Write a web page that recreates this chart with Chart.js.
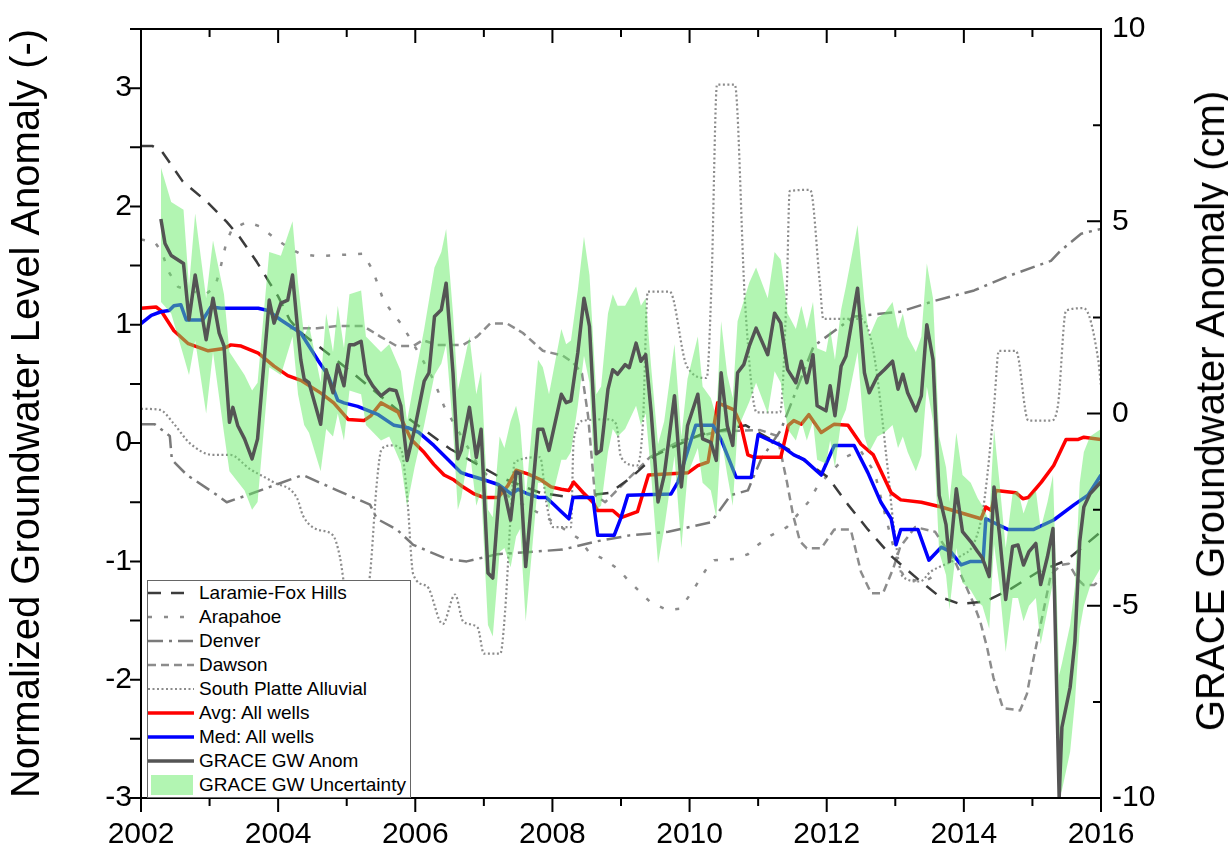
<!DOCTYPE html>
<html><head><meta charset="utf-8">
<script src="https://cdn.jsdelivr.net/npm/chart.js@4"></script>
<style>
html,body{margin:0;padding:0;background:#fff;}
#wrap{position:relative;width:1228px;height:856px;overflow:hidden;}
canvas{display:block;}
#rtitle{position:absolute;left:1210px;top:411px;transform:translate(-50%,-50%) rotate(-90deg);font:40px "Liberation Sans",Arial,sans-serif;white-space:nowrap;color:#000;line-height:1;}
#legend{position:absolute;left:147px;top:580px;width:264px;height:218px;border:1px solid #666;background:#fff;box-sizing:border-box;font:19px "Liberation Sans",Arial,sans-serif;color:#000;}
.row{height:24px;display:flex;align-items:center;white-space:nowrap;}
.row svg{width:48px;height:24px;flex:none;}
.row span{margin-left:3px;}
</style></head>
<body>
<div id="wrap">
<canvas id="c" width="1228" height="856"></canvas>
<div id="rtitle">GRACE Groundwater Anomaly (cm)</div>
<div id="legend"></div>
</div>
<script>
// ---------- tick labels ----------
const xTicks = [2002, 2004, 2006, 2008, 2010, 2012, 2014, 2016];
const leftTicks = [-3, -2, -1, 0, 1, 2, 3];
const rightTicks = [-10, -5, 0, 5, 10];

// ---------- Laramie-Fox Hills ----------
const larX = [2002.00,2002.17,2002.31,2002.42,2002.61,2002.96,2003.25,2003.44,2003.69,2003.88,2004.00,2004.17,2004.32,2005.05,2005.78,2006.51,2007.24,2007.82,2008.26,2008.84,2009.15,2009.51,2010.15,2010.82,2011.46,2012.02,2012.31,2012.60,2012.95,2013.33,2013.65,2013.94,2014.31,2014.69,2015.08,2015.50,2016.00];
const larY = [2.51,2.51,2.46,2.37,2.21,2.04,1.87,1.74,1.53,1.35,1.24,1.04,0.94,0.61,0.26,-0.05,-0.29,-0.42,-0.46,-0.42,-0.29,-0.10,0.07,0.15,-0.06,-0.29,-0.52,-0.73,-0.96,-1.15,-1.30,-1.36,-1.34,-1.23,-1.09,-0.99,-0.75];

// ---------- Arapahoe ----------
const araX = [2002.00,2002.20,2002.31,2002.39,2002.54,2002.73,2002.93,2003.08,2003.15,2003.25,2003.33,2003.55,2003.74,2003.93,2004.13,2004.32,2004.57,2005.24,2005.38,2005.54,2005.79,2005.94,2006.11,2006.27,2006.42,2006.62,2006.94,2007.38,2007.89,2008.39,2008.53,2008.75,2008.97,2009.09,2009.42,2009.67,2009.86,2010.01,2010.25,2010.36,2010.65,2010.85,2011.00,2011.19,2011.42,2011.73,2011.87,2012.27,2012.49,2012.70,2012.88,2013.03,2013.14,2013.43,2013.65];
const araY = [1.72,1.70,1.61,1.46,1.32,1.29,1.25,1.32,1.46,1.71,1.81,1.87,1.83,1.74,1.66,1.60,1.58,1.60,1.46,1.20,1.01,0.87,0.70,0.53,0.31,0.11,-0.21,-0.46,-0.62,-0.81,-0.92,-0.98,-1.07,-1.15,-1.34,-1.41,-1.40,-1.28,-1.06,-0.99,-0.98,-0.94,-0.86,-0.78,-0.71,-0.50,-0.36,-0.12,-0.06,-0.25,-0.67,-1.00,-1.15,-1.17,-1.09];

// ---------- Denver ----------
const denX = [2002.00,2002.20,2002.42,2002.45,2002.67,2003.11,2003.25,2003.55,2003.88,2004.36,2004.86,2005.34,2005.44,2005.73,2005.97,2006.46,2006.75,2007.19,2007.67,2008.15,2008.65,2009.13,2009.69,2010.31,2010.60,2010.85,2011.04,2011.33,2011.81,2012.40,2013.07,2013.56,2014.15,2014.64,2015.27,2015.40,2015.71,2016.00];
const denY = [0.16,0.16,0.06,-0.14,-0.27,-0.44,-0.50,-0.44,-0.37,-0.27,-0.40,-0.52,-0.64,-0.73,-0.86,-0.98,-1.00,-0.94,-0.92,-0.90,-0.83,-0.78,-0.75,-0.67,-0.44,-0.40,-0.14,0.11,0.82,1.07,1.11,1.20,1.29,1.41,1.54,1.62,1.77,1.81];

// ---------- Dawson ----------
const dawX = [2004.17,2004.57,2004.86,2005.24,2005.49,2005.73,2005.97,2006.11,2006.32,2006.70,2006.90,2007.09,2007.34,2007.57,2007.86,2008.15,2008.30,2008.43,2008.52,2008.62,2008.77,2009.06,2009.42,2009.86,2010.44,2011.03,2011.28,2011.42,2011.51,2011.61,2011.71,2011.92,2012.11,2012.35,2012.50,2012.65,2012.82,2012.97,2013.07,2013.29,2013.58,2013.87,2014.13,2014.24,2014.34,2014.43,2014.57,2014.82,2014.92,2015.01,2015.11,2015.21,2015.27,2015.42,2015.53,2015.66,2015.75,2015.90,2016.00];
const dawY = [0.97,0.97,0.99,0.99,0.90,0.82,0.82,0.87,0.83,0.83,0.90,1.01,1.01,0.93,0.78,0.74,0.68,0.59,0.23,-0.44,-0.50,-0.33,-0.12,0.02,0.10,0.11,0.06,-0.33,-0.61,-0.83,-0.89,-0.89,-0.73,-0.73,-1.09,-1.27,-1.27,-1.06,-0.88,-0.71,-0.75,-1.00,-1.34,-1.51,-1.73,-1.98,-2.24,-2.26,-2.12,-1.84,-1.56,-1.28,-1.11,-1.03,-1.02,-1.15,-1.20,-1.20,-1.15];

// ---------- South Platte Alluvial ----------
const spX = [2002.00,2002.28,2002.47,2002.71,2003.05,2003.30,2003.59,2003.93,2004.28,2004.36,2004.57,2004.80,2004.90,2004.98,2005.12,2005.27,2005.34,2005.44,2005.51,2005.66,2005.79,2005.88,2005.97,2006.17,2006.40,2006.58,2006.70,2006.91,2007.00,2007.24,2007.31,2007.40,2007.45,2007.82,2007.91,2008.01,2008.27,2008.31,2008.46,2008.81,2008.93,2009.00,2009.23,2009.32,2009.39,2009.71,2009.96,2010.25,2010.32,2010.40,2010.66,2010.81,2010.98,2011.32,2011.42,2011.46,2011.76,2011.90,2011.95,2012.49,2012.68,2012.89,2012.97,2013.11,2013.36,2013.51,2013.94,2014.16,2014.29,2014.44,2014.51,2014.76,2014.94,2015.27,2015.37,2015.49,2015.75,2015.96,2016.00];
const spY = [0.29,0.28,0.17,0.00,-0.10,-0.10,-0.22,-0.33,-0.47,-0.61,-0.73,-0.78,-0.96,-1.25,-1.42,-1.34,-1.11,-0.33,-0.05,-0.02,-0.05,-0.44,-1.11,-1.21,-1.53,-1.28,-1.51,-1.56,-1.78,-1.78,-1.42,-0.52,-0.16,-0.12,-0.50,-0.71,-0.71,0.03,0.19,0.20,0.16,-0.12,-0.19,0.17,1.28,1.28,0.65,0.55,1.35,3.03,3.03,1.18,0.26,0.26,1.35,2.13,2.14,1.35,1.05,1.05,0.78,-0.22,-0.67,-1.13,-1.17,-1.09,-0.96,-0.83,-0.52,0.31,0.78,0.78,0.19,0.19,0.31,1.12,1.14,0.70,0.48];

// ---------- Avg: All wells ----------
const avgX = [2002.00,2002.22,2002.29,2002.48,2002.69,2002.98,2003.21,2003.31,2003.46,2003.71,2003.94,2004.14,2004.33,2004.63,2004.81,2005.02,2005.25,2005.35,2005.50,2005.75,2005.94,2006.13,2006.27,2006.42,2006.56,2006.67,2006.86,2007.00,2007.21,2007.35,2007.47,2007.64,2007.83,2007.98,2008.13,2008.24,2008.31,2008.45,2008.59,2008.66,2008.88,2009.00,2009.24,2009.40,2009.98,2010.12,2010.27,2010.41,2010.65,2010.75,2010.85,2010.94,2011.33,2011.44,2011.52,2011.63,2011.74,2011.92,2012.11,2012.31,2012.50,2012.68,2012.94,2013.08,2013.38,2013.67,2014.25,2014.32,2014.40,2014.47,2014.76,2014.86,2014.94,2015.13,2015.31,2015.49,2015.66,2015.75,2016.00];
const avgY = [1.14,1.15,1.12,0.95,0.84,0.78,0.80,0.83,0.82,0.76,0.65,0.57,0.53,0.42,0.34,0.20,0.19,0.23,0.34,0.26,0.03,-0.08,-0.18,-0.27,-0.31,-0.36,-0.43,-0.46,-0.46,-0.36,-0.23,-0.26,-0.31,-0.37,-0.39,-0.40,-0.33,-0.42,-0.50,-0.57,-0.57,-0.63,-0.58,-0.27,-0.25,-0.19,-0.16,0.34,0.28,0.15,-0.10,-0.12,-0.12,0.15,0.19,0.16,0.24,0.09,0.16,0.15,-0.01,-0.10,-0.42,-0.48,-0.50,-0.54,-0.64,-0.54,-0.57,-0.40,-0.42,-0.47,-0.46,-0.33,-0.19,0.03,0.03,0.05,0.03];

// ---------- Med: All wells ----------
const medX = [2002.00,2002.15,2002.29,2002.41,2002.48,2002.58,2002.66,2002.90,2003.02,2003.17,2003.71,2003.85,2004.04,2004.33,2004.58,2004.73,2004.87,2004.96,2005.16,2005.46,2005.69,2005.89,2006.05,2006.27,2006.48,2006.67,2006.77,2007.00,2007.21,2007.40,2007.50,2007.64,2007.80,2007.91,2008.02,2008.13,2008.24,2008.30,2008.59,2008.66,2008.90,2009.00,2009.10,2009.73,2009.83,2010.09,2010.34,2010.46,2010.68,2010.90,2011.00,2011.33,2011.52,2011.67,2011.92,2012.11,2012.40,2012.60,2012.79,2012.94,2013.01,2013.08,2013.33,2013.49,2013.67,2013.81,2013.96,2014.10,2014.28,2014.32,2014.64,2015.02,2015.31,2015.61,2015.81,2016.00];
const medY = [1.01,1.08,1.11,1.12,1.16,1.17,1.04,1.04,1.15,1.14,1.14,1.12,1.04,0.93,0.70,0.57,0.36,0.34,0.31,0.24,0.15,0.13,0.09,-0.02,-0.14,-0.25,-0.27,-0.31,-0.35,-0.43,-0.39,-0.43,-0.46,-0.46,-0.52,-0.58,-0.64,-0.46,-0.46,-0.78,-0.78,-0.63,-0.44,-0.43,-0.33,0.15,0.15,0.03,-0.29,-0.29,0.07,-0.02,-0.10,-0.14,-0.27,-0.02,-0.02,-0.25,-0.50,-0.64,-0.86,-0.73,-0.73,-0.99,-0.88,-0.92,-1.03,-1.00,-1.00,-0.64,-0.73,-0.73,-0.65,-0.52,-0.44,-0.27];

// ---------- GRACE GW Anom (cm) ----------
const graceX = [2002.29,2002.35,2002.44,2002.62,2002.70,2002.79,2002.95,2003.05,2003.14,2003.21,2003.29,2003.34,2003.41,2003.51,2003.62,2003.70,2003.87,2003.94,2004.04,2004.14,2004.21,2004.29,2004.33,2004.38,2004.45,2004.62,2004.70,2004.80,2004.87,2004.96,2005.04,2005.11,2005.21,2005.28,2005.38,2005.50,2005.62,2005.72,2005.79,2005.88,2005.99,2006.13,2006.20,2006.28,2006.38,2006.45,2006.55,2006.62,2006.67,2006.79,2006.89,2006.96,2007.06,2007.13,2007.23,2007.30,2007.39,2007.47,2007.53,2007.61,2007.79,2007.86,2007.95,2008.13,2008.20,2008.27,2008.37,2008.46,2008.54,2008.64,2008.71,2008.81,2008.88,2008.95,2009.06,2009.12,2009.22,2009.29,2009.36,2009.44,2009.54,2009.63,2009.78,2009.88,2009.97,2010.12,2010.19,2010.31,2010.39,2010.46,2010.55,2010.63,2010.70,2010.79,2010.87,2010.97,2011.14,2011.24,2011.33,2011.43,2011.55,2011.63,2011.71,2011.80,2011.86,2011.99,2012.05,2012.12,2012.21,2012.28,2012.45,2012.55,2012.62,2012.74,2012.84,2012.96,2013.04,2013.11,2013.18,2013.30,2013.38,2013.46,2013.55,2013.64,2013.74,2013.79,2013.89,2013.98,2014.10,2014.20,2014.27,2014.37,2014.44,2014.52,2014.61,2014.71,2014.79,2014.87,2014.95,2015.05,2015.12,2015.22,2015.30,2015.39,2015.43,2015.55,2015.62,2015.69,2015.75,2015.84,2016.00];
const graceY = [5.06,4.42,4.11,3.90,2.44,3.60,1.92,3.00,2.09,1.76,-0.23,0.16,-0.31,-0.66,-1.18,-0.66,2.95,2.35,2.87,2.95,3.60,2.09,1.40,0.89,0.80,-0.28,1.14,0.54,1.27,0.72,1.79,1.79,1.88,1.02,0.72,0.46,0.63,0.59,0.20,-1.22,-0.41,0.84,1.06,2.52,2.70,3.39,1.06,-1.18,-0.96,0.16,-1.14,-0.41,-4.15,-4.28,-1.91,-2.04,-2.77,-1.52,-1.57,-3.98,-0.41,-0.41,-0.96,0.50,0.28,0.33,1.58,3.00,2.27,-1.05,-0.96,0.63,1.14,1.02,1.27,1.19,1.83,1.36,1.53,0.03,-2.30,-1.61,0.46,-1.91,-0.32,0.50,-0.66,-0.75,-1.22,1.06,-0.32,-0.83,1.06,1.27,1.75,2.22,1.53,2.61,2.35,1.14,0.80,1.36,0.80,1.53,0.20,0.07,0.72,-0.06,1.23,1.49,3.26,1.06,0.54,0.97,1.14,1.36,0.63,1.02,0.54,0.07,0.46,2.31,1.40,-2.13,-2.89,-3.85,-1.96,-3.07,-3.33,-3.59,-3.76,-4.24,-1.91,-3.16,-4.84,-3.46,-3.42,-3.94,-3.59,-3.38,-4.45,-3.72,-2.99,-10.0,-8.16,-7.12,-5.92,-3.33,-2.43,-2.09,-1.78];

// ---------- GRACE GW Uncertainty band (cm) ----------
const bandX = [2002.29,2002.44,2002.62,2002.70,2002.79,2002.95,2003.05,2003.21,2003.29,2003.51,
2003.62,2003.70,2003.87,2004.04,2004.21,2004.29,2004.38,2004.45,2004.62,2004.70,
2004.80,2004.87,2004.96,2005.04,2005.21,2005.28,2005.50,2005.62,2005.79,2005.88,
2005.99,2006.13,2006.28,2006.38,2006.45,2006.55,2006.62,2006.67,2006.79,2006.89,
2006.96,2007.06,2007.13,2007.23,2007.30,2007.39,2007.47,2007.53,2007.61,2007.79,
2007.86,2007.95,2008.13,2008.20,2008.27,2008.37,2008.46,2008.54,2008.64,2008.71,
2008.81,2008.88,2008.95,2009.06,2009.22,2009.29,2009.36,2009.44,2009.54,2009.63,
2009.78,2009.88,2009.97,2010.12,2010.19,2010.31,2010.39,2010.46,2010.55,2010.63,
2010.70,2010.87,2010.97,2011.14,2011.24,2011.33,2011.43,2011.55,2011.63,2011.71,
2011.80,2011.86,2011.99,2012.05,2012.12,2012.21,2012.28,2012.45,2012.55,2012.62,
2012.74,2012.84,2012.96,2013.04,2013.11,2013.18,2013.30,2013.38,2013.46,2013.55,
2013.64,2013.74,2013.79,2013.89,2013.98,2014.10,2014.20,2014.27,2014.37,2014.44,
2014.52,2014.61,2014.71,2014.79,2014.87,2014.95,2015.05,2015.12,2015.22,2015.30,
2015.39,2015.43,2015.55,2015.62,2015.69,2015.75,2015.84,2016.00];
const bandHi = [6.4,5.5,5.3,3.3,5.2,3.0,4.5,3.1,1.6,1.0,
0.6,0.8,4.2,4.1,5.0,3.4,2.0,2.3,0.8,2.6,
1.6,2.8,1.7,3.1,3.2,2.0,1.6,1.8,1.1,-0.2,
0.9,2.2,3.8,4.2,4.8,2.6,0.6,1.0,2.0,0.5,
1.1,-2.5,-2.7,-0.6,-0.9,-0.2,0.2,-0.3,-2.2,1.4,
1.2,0.5,2.2,1.8,1.9,3.2,4.6,3.6,0.5,0.7,
2.6,3.1,2.8,2.8,3.3,2.8,3.0,1.2,-0.8,-0.2,
1.8,-0.6,0.9,2.0,0.7,0.4,-0.1,2.4,1.0,0.4,
2.4,3.4,3.8,3.0,4.2,4.0,2.6,2.2,2.8,2.2,
2.9,1.7,1.6,2.2,1.4,2.7,3.3,4.9,2.9,2.0,
2.5,2.6,2.9,2.2,2.6,2.0,1.6,2.0,3.9,3.0,
-0.6,-1.4,-2.3,-0.5,-1.6,-1.8,-2.2,-2.4,-2.8,-0.4,
-1.8,-3.5,-2.1,-2.0,-2.6,-2.2,-2.0,-3.0,-2.3,-1.6,
-6.8,-6.5,-5.5,-4.5,-1.8,-1.0,-0.6,-0.4];
const bandLo = [2.9,2.6,1.5,1.0,1.9,0.0,1.6,-0.5,-1.5,-2.0,
-2.5,-2.3,1.2,1.0,2.0,0.5,-0.3,-0.5,-1.5,-0.4,
-0.6,0.0,-0.7,0.6,0.5,-0.3,-0.7,-0.6,-1.3,-2.4,
-1.4,-0.3,1.0,1.3,1.8,-0.4,-2.5,-2.2,-0.9,-2.4,
-2.0,-5.5,-5.8,-3.6,-3.5,-4.0,-3.2,-3.0,-5.4,-1.8,
-1.8,-2.5,-1.2,-1.2,-1.0,0.2,1.5,0.8,-2.5,-2.4,
-1.0,-0.4,-0.6,-0.4,0.2,-0.3,0.0,-1.6,-3.9,-3.0,
-1.1,-3.5,-1.6,-0.9,-1.8,-2.0,-2.7,-0.6,-1.6,-2.4,
-0.4,0.3,0.8,0.0,1.1,0.8,-0.4,-0.7,-0.2,-0.7,
-0.2,-1.2,-1.3,-0.7,-1.4,-0.2,0.1,1.6,-0.6,-1.0,
-0.6,-0.5,-0.3,-0.9,-0.6,-1.0,-1.5,-1.1,0.7,-0.2,
-3.6,-4.2,-5.1,-3.5,-4.4,-4.6,-4.9,-5.0,-5.6,-3.4,
-4.5,-6.2,-4.8,-4.8,-5.4,-5.0,-4.8,-6.0,-5.1,-4.4,
-10.0,-9.8,-8.8,-7.5,-5.6,-5.0,-4.5,-4.0];

// ---------- chart ----------
const F = "'Liberation Sans', Arial, Helvetica, sans-serif";
const pts = (xs, ys) => xs.map((x, i) => ({x: x, y: ys[i]}));

const STY = {
  lar: {color: '#3c3c3c', width: 2.5, dash: [13, 10]},
  ara: {color: '#8c8c8c', width: 2.5, dash: [4, 12]},
  den: {color: '#7a7a7a', width: 2.5, dash: [15, 6, 3, 6]},
  daw: {color: '#8c8c8c', width: 2.5, dash: [8, 5]},
  sp:  {color: '#8c8c8c', width: 2.2, dash: [2, 2.5]},
  avg: {color: '#ff0000', width: 3.5},
  med: {color: '#0000ff', width: 3.5},
  gr:  {color: '#545454', width: 3.5},
  band: 'rgba(101,235,101,0.5)'
};

function lineDs(label, xs, ys, s, order, axis, extra) {
  return Object.assign({
    label: label, data: pts(xs, ys), yAxisID: axis || 'y', order: order,
    borderColor: s.color, borderWidth: s.width, borderDash: s.dash || [],
    pointRadius: 0, fill: false, tension: 0, borderJoinStyle: 'round'
  }, extra || {});
}

const datasets = [
  lineDs('GRACE GW Anom', graceX, graceY, STY.gr, 0, 'y2'),
  {label: 'GRACE GW Uncertainty', data: pts(bandX, bandHi), yAxisID: 'y2', order: 1,
   borderWidth: 0, borderColor: 'rgba(0,0,0,0)', backgroundColor: STY.band, pointRadius: 0, fill: '+1', tension: 0},
  {label: 'band low', data: pts(bandX, bandLo), yAxisID: 'y2', order: 2,
   borderWidth: 0, borderColor: 'rgba(0,0,0,0)', pointRadius: 0, fill: false, tension: 0},
  lineDs('Med: All wells', medX, medY, STY.med, 3),
  lineDs('Avg: All wells', avgX, avgY, STY.avg, 4),
  lineDs('Laramie-Fox Hills', larX, larY, STY.lar, 5),
  lineDs('Arapahoe', araX, araY, STY.ara, 6),
  lineDs('Denver', denX, denY, STY.den, 7),
  lineDs('Dawson', dawX, dawY, STY.daw, 8),
  lineDs('South Platte Alluvial', spX, spY, STY.sp, 9, 'y', {cubicInterpolationMode: 'monotone'})
];

const frame = {
  id: 'frame',
  afterDraw(chart) {
    const {ctx, chartArea: {left, right, top, bottom}, scales: {x, y, y2}} = chart;
    ctx.save();
    ctx.strokeStyle = '#000';
    ctx.lineWidth = 2;
    ctx.strokeRect(left, top, right - left, bottom - top);
    ctx.beginPath();
    for (let yr = 2002; yr <= 2016; yr++) {
      const px = x.getPixelForValue(yr);
      const L = (yr % 2 === 0) ? 14 : 8;
      ctx.moveTo(px, bottom); ctx.lineTo(px, bottom + L);
      ctx.moveTo(px, top); ctx.lineTo(px, top + L);
    }
    for (let v = -3; v <= 3.5; v += 0.5) {
      const py = y.getPixelForValue(v);
      ctx.moveTo(left, py); ctx.lineTo(left - 11, py);
    }
    for (let v = -10; v <= 10; v += 2.5) {
      const py = y2.getPixelForValue(v);
      const L = (v % 5 === 0) ? 14 : 8;
      ctx.moveTo(right, py); ctx.lineTo(right - L, py);
    }
    ctx.stroke();
    ctx.restore();
  }
};

const tickFont = {family: F, size: 30};
new Chart(document.getElementById('c'), {
  type: 'line',
  data: {datasets: datasets},
  options: {
    responsive: false, animation: false, devicePixelRatio: 1,
    layout: {padding: {top: 24, left: 0, right: 0, bottom: 0}},
    plugins: {legend: {display: false}, tooltip: {enabled: false}},
    scales: {
      x: {
        type: 'linear', min: 2002, max: 2016, position: 'bottom',
        grid: {display: false, drawTicks: false}, border: {display: false},
        afterBuildTicks: s => { s.ticks = xTicks.map(v => ({value: v})); },
        afterFit: s => { s.height = 58; },
        ticks: {font: tickFont, color: '#000', padding: 19, maxRotation: 0, autoSkip: false, callback: v => String(v)}
      },
      y: {
        type: 'linear', position: 'left', min: -3, max: 3.5,
        grid: {display: false, drawTicks: false}, border: {display: false},
        afterBuildTicks: s => { s.ticks = leftTicks.map(v => ({value: v})); },
        afterFit: s => { s.width = 141; },
        ticks: {font: tickFont, color: '#000', padding: 9, autoSkip: false, callback: v => String(v)},
        title: {display: true, text: 'Normalized Groundwater Level Anomaly (-)', color: '#000',
                font: {family: F, size: 40, lineHeight: 1.2}, padding: {top: 4, bottom: 0}}
      },
      y2: {
        type: 'linear', position: 'right', min: -10, max: 10,
        grid: {display: false, drawTicks: false}, border: {display: false},
        afterBuildTicks: s => { s.ticks = rightTicks.map(v => ({value: v})); },
        afterFit: s => { s.width = 127; },
        ticks: {font: tickFont, color: '#000', padding: 11, autoSkip: false, callback: v => String(v)}
      }
    }
  },
  plugins: [frame]
});

// ---------- legend (HTML) ----------
const legendItems = [
  ['Laramie-Fox Hills', STY.lar], ['Arapahoe', STY.ara], ['Denver', STY.den], ['Dawson', STY.daw],
  ['South Platte Alluvial', STY.sp], ['Avg: All wells', STY.avg], ['Med: All wells', STY.med],
  ['GRACE GW Anom', STY.gr], ['GRACE GW Uncertainty', null]
];
const lg = document.getElementById('legend');
legendItems.forEach(([name, s]) => {
  const row = document.createElement('div');
  row.className = 'row';
  let svg;
  if (s) {
    const dash = (s.dash && s.dash.length) ? `stroke-dasharray="${s.dash.join(',')}"` : '';
    svg = `<svg viewBox="0 0 48 24"><line x1="0" y1="12" x2="46" y2="12" stroke="${s.color}" stroke-width="${s.width}" ${dash}/></svg>`;
  } else {
    svg = `<svg viewBox="0 0 48 24"><rect x="3" y="2" width="42" height="20" fill="#b2f5b2"/></svg>`;
  }
  row.innerHTML = svg + `<span>${name}</span>`;
  lg.appendChild(row);
});
</script>
</body></html>
